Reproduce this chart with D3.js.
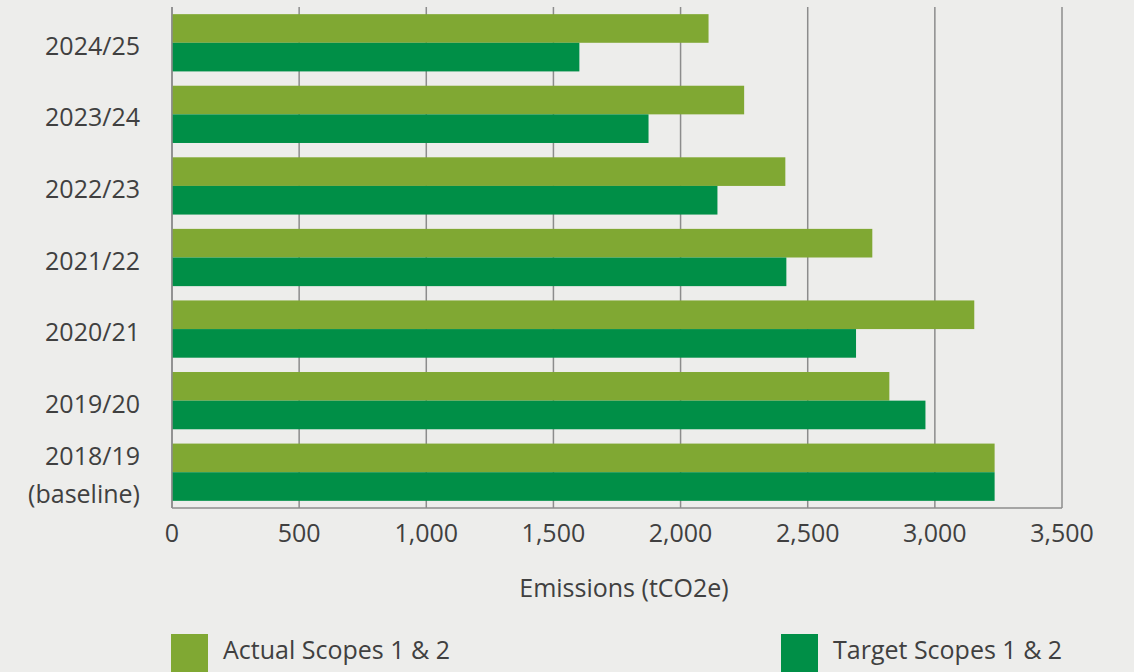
<!DOCTYPE html>
<html>
<head>
<meta charset="utf-8">
<script src="https://cdn.jsdelivr.net/npm/d3@7"></script>
<style>
  html, body { margin: 0; padding: 0; background: #ededeb; }
  svg { display: block; }
  text { font-family: "Open Sans", "Noto Sans", sans-serif; fill: #404040; }
</style>
</head>
<body>
<svg id="chart" width="1134" height="672"></svg>
<script>
// Financial years, top to bottom
const years = ["2024/25", "2023/24", "2022/23", "2021/22", "2020/21", "2019/20", "2018/19\n(baseline)"];
// Scope 1 & 2 emissions, tCO2e
const actual = [2110, 2250, 2412, 2754, 3155, 2821, 3235];
const target = [1602, 1874, 2145, 2416, 2690, 2963, 3235];
const seriesNames = ["Actual Scopes 1 & 2", "Target Scopes 1 & 2"];
const seriesColors = ["#80a833", "#008f47"];
const xTicks = [0, 500, 1000, 1500, 2000, 2500, 3000, 3500];
const xTitle = "Emissions (tCO2e)";

const svg = d3.select("#chart");
const margin = { left: 172, right: 1134 - 1062, top: 7, bottom: 672 - 508 };
const W = 1134, H = 672;
const fontSize = 25;

const x = d3.scaleLinear().domain([0, 3500]).range([margin.left, W - margin.right]);
const y = d3.scaleBand().domain(years).range([margin.top, H - margin.bottom])
  .paddingInner(0.2).paddingOuter(0.1);
const ySub = d3.scaleBand().domain([0, 1]).range([0, y.bandwidth()]);

// Vertical gridlines
svg.append("g")
  .selectAll("line")
  .data(xTicks)
  .join("line")
  .attr("x1", d => x(d)).attr("x2", d => x(d))
  .attr("y1", margin.top).attr("y2", H - margin.bottom)
  .attr("stroke", "#8c8c8c").attr("stroke-width", 1.5);

// Bars
const rows = years.map((yr, i) => ({ yr, vals: [actual[i], target[i]] }));
const groups = svg.append("g").selectAll("g")
  .data(rows).join("g")
  .attr("transform", d => `translate(0,${y(d.yr)})`);
groups.selectAll("rect")
  .data(d => d.vals.map((v, k) => ({ v, k })))
  .join("rect")
  .attr("x", x(0))
  .attr("y", d => ySub(d.k))
  .attr("width", d => x(d.v) - x(0))
  .attr("height", ySub.bandwidth())
  .attr("fill", d => seriesColors[d.k]);

// Axis lines
svg.append("line")
  .attr("x1", x(0)).attr("x2", x(3500))
  .attr("y1", H - margin.bottom).attr("y2", H - margin.bottom)
  .attr("stroke", "#8c8c8c").attr("stroke-width", 1.5);
svg.append("line")
  .attr("x1", x(0)).attr("x2", x(0))
  .attr("y1", margin.top).attr("y2", H - margin.bottom)
  .attr("stroke", "#8c8c8c").attr("stroke-width", 1.5);

// X tick labels
const fmt = d3.format(",");
svg.append("g").selectAll("text")
  .data(xTicks).join("text")
  .attr("x", d => x(d))
  .attr("y", 542)
  .attr("text-anchor", "middle")
  .attr("font-size", fontSize)
  .text(d => fmt(d));

// X axis title
svg.append("text")
  .attr("x", 624).attr("y", 597)
  .attr("text-anchor", "middle")
  .attr("font-size", fontSize)
  .text(xTitle);

// Y category labels
svg.append("g").selectAll("text")
  .data(years).join("text")
  .attr("text-anchor", "end")
  .attr("font-size", fontSize)
  .each(function (d) {
    const lines = d.split("\n");
    const cy = y(d) + y.bandwidth() / 2;
    const t = d3.select(this);
    if (lines.length === 1) {
      t.append("tspan").attr("x", 140).attr("y", cy + 12).text(lines[0]);
    } else {
      t.append("tspan").attr("x", 140).attr("y", cy - 7).text(lines[0]);
      t.append("tspan").attr("x", 140).attr("y", cy + 31).text(lines[1]);
    }
  });

// Legend
const legendX = [171, 781];
const lg = svg.append("g").selectAll("g")
  .data(seriesNames).join("g")
  .attr("transform", (d, i) => `translate(${legendX[i]},634)`);
lg.append("rect").attr("width", 37).attr("height", 40)
  .attr("fill", (d, i) => seriesColors[i]);
lg.append("text").attr("x", 52).attr("y", 25)
  .attr("font-size", fontSize)
  .text(d => d);
</script>
</body>
</html>
